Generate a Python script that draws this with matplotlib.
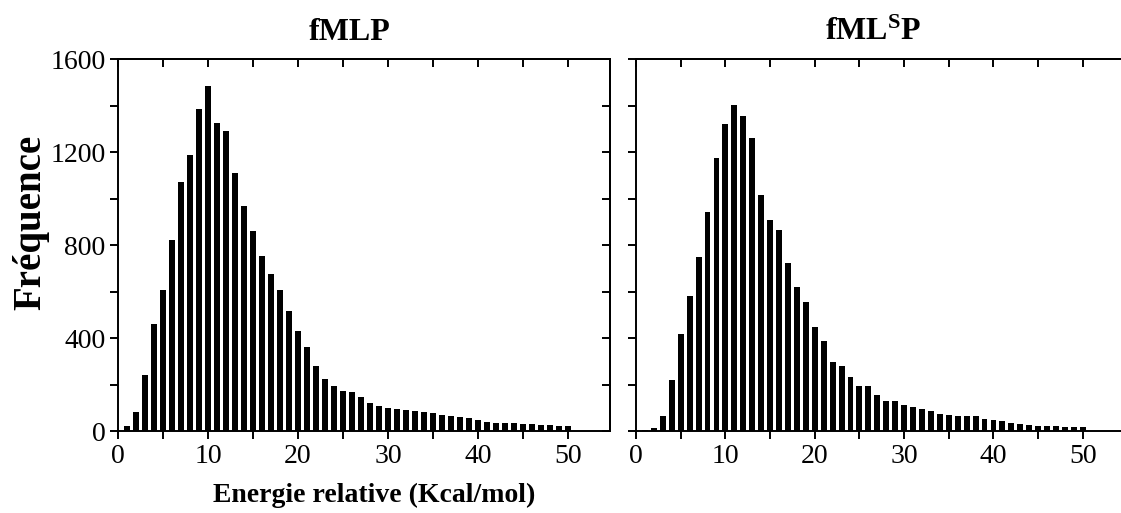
# energy histograms for fMLP and fML(S)P - two panels side by side
import matplotlib.pyplot as plt
from matplotlib.ticker import MultipleLocator
import numpy as np

plt.rcParams.update({
    "font.family": "Liberation Serif",
    "mathtext.fontset": "custom",
    "mathtext.bf": "Liberation Serif:bold",
    "mathtext.rm": "Liberation Serif",
})

energy = np.arange(1, 51)

# counts
freq_fmlp = [22, 82, 240, 460, 607, 820, 1069, 1187, 1387, 1486,
             1325, 1291, 1111, 968, 860, 751, 676, 606, 518, 430,
             360, 278, 223, 193, 172, 170, 146, 121, 108, 101,
             95, 89, 86, 82, 78, 70, 66, 62, 55, 47,
             40, 36, 35, 33, 30, 29, 27, 26, 23, 22]

freq_fmlsp = [3, 12, 65, 221, 419, 581, 749, 944, 1173, 1319,
              1402, 1354, 1260, 1014, 909, 863, 721, 621, 555, 449,
              386, 296, 279, 234, 194, 192, 154, 127, 127, 111,
              103, 95, 85, 75, 68, 64, 64, 64, 51, 46,
              43, 36, 29, 27, 23, 22, 20, 19, 17, 16]

titles = ["fMLP", r"$\mathbf{fML^{S}P}$"]
title_x = [0.47, 0.485]
x_ticks = [0, 10, 20, 30, 40, 50]
y_ticks = [0, 400, 800, 1200, 1600]

fig = plt.figure(figsize=(11.21, 5.13), dpi=100)
ax_left = fig.add_axes([0.1053, 0.1598, 0.4389, 0.7251])
ax_right = fig.add_axes([0.5674, 0.1598, 0.4360, 0.7251])

for ax, counts, title, tx in zip([ax_left, ax_right], [freq_fmlp, freq_fmlsp], titles, title_x):
    ax.bar(energy, counts, width=0.66, color="black")
    ax.set_xlim(0, 54.7)
    ax.set_ylim(0, 1600)
    ax.set_xticks(x_ticks)
    ax.set_yticks(y_ticks)
    ax.xaxis.set_minor_locator(MultipleLocator(5))
    ax.yaxis.set_minor_locator(MultipleLocator(200))
    ax.tick_params(which="both", direction="out", length=6, width=1.4, labelsize=20, pad=3)
    for s in ax.spines.values():
        s.set_linewidth(1.4)

    # top ticks point inwards, so use a secondary axis for them
    top = ax.secondary_xaxis("top")
    top.set_xticks(x_ticks)
    top.xaxis.set_minor_locator(MultipleLocator(5))
    top.tick_params(which="both", direction="in", length=6, width=1.4, labeltop=False)
    top.spines["top"].set_linewidth(1.4)

    ax.set_title(title, fontsize=23, fontweight="bold", x=tx, pad=14)

# right side ticks only on the left panel (the other one is cut off at the image edge)
right = ax_left.secondary_yaxis("right")
right.set_yticks(y_ticks)
right.yaxis.set_minor_locator(MultipleLocator(200))
right.tick_params(which="both", direction="in", length=6, width=1.4, labelright=False)
right.spines["right"].set_linewidth(1.4)

ax_right.tick_params(labelleft=False)

ax_left.set_ylabel("Fréquence", fontsize=28, fontweight="bold")
ax_left.yaxis.set_label_coords(-0.14, 0.56)
ax_left.set_xlabel("Energie relative (Kcal/mol)", fontsize=20, fontweight="bold")
ax_left.xaxis.set_label_coords(0.52, -0.14)

fig.savefig("out.png", dpi=100)
